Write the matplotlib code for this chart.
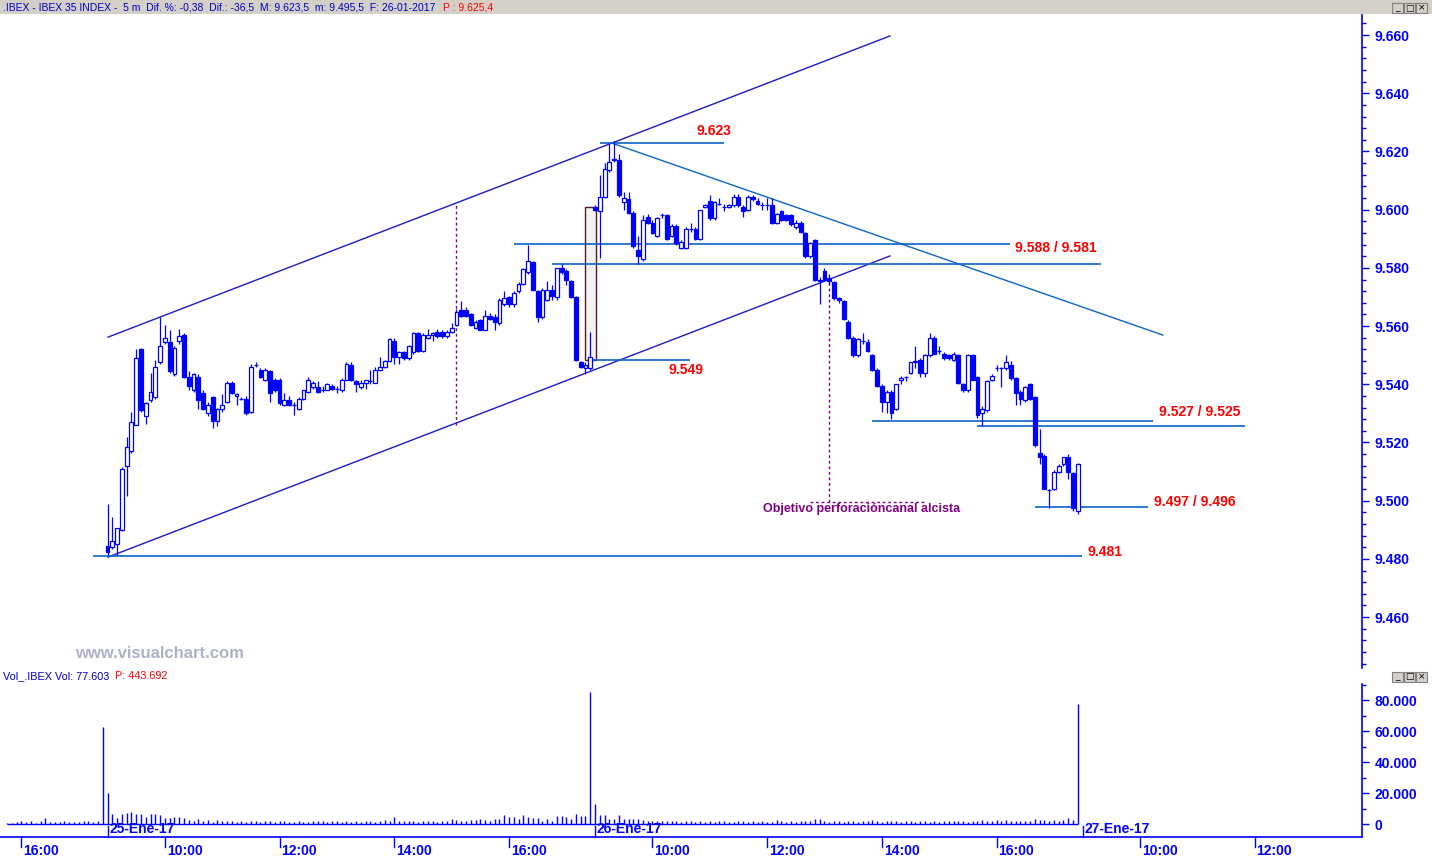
import matplotlib
matplotlib.use("Agg")
import matplotlib.pyplot as plt
import matplotlib.transforms as mtransforms
from matplotlib.patches import Rectangle
from matplotlib.ticker import MultipleLocator, FixedLocator
import numpy as np

# ---- 5 min IBEX candles, 25-Ene-17 (bar 0..101) and 26-Ene-17 (bar 102..203) ----
open_25 = [9484.5, 9484.0, 9485.0, 9490.0, 9512.0, 9517.0, 9526.0, 9552.0, 9529.0, 9534.5,
           9535.5, 9547.5, 9554.5, 9554.5, 9543.5, 9555.0, 9557.0, 9542.5, 9538.0, 9542.5,
           9537.0, 9530.0, 9535.5, 9527.5, 9531.5, 9534.0, 9540.5, 9536.0, 9535.0, 9535.0,
           9530.5, 9546.5, 9545.0, 9541.5, 9544.5, 9541.5, 9541.5, 9533.0, 9534.5, 9533.0,
           9531.5, 9535.0, 9537.5, 9539.0, 9539.0, 9538.0, 9538.0, 9539.5, 9538.5, 9538.0,
           9541.5, 9546.5, 9541.0, 9539.0, 9540.5, 9541.0, 9540.5, 9545.0, 9546.0, 9548.0,
           9555.0, 9549.5, 9551.0, 9549.0, 9551.0, 9557.5, 9551.5, 9556.0, 9557.0, 9558.0,
           9558.0, 9556.5, 9558.0, 9560.5, 9565.5, 9565.5, 9564.0, 9559.5, 9562.0, 9558.5,
           9563.5, 9563.0, 9561.0, 9567.5, 9570.0, 9567.5, 9572.0, 9574.5, 9578.5, 9582.0,
           9572.0, 9563.0, 9569.0, 9572.5, 9570.0, 9580.0, 9579.0, 9575.5, 9570.0, 9547.5,
           9545.5, 9545.5]
high_25 = [9499.0, 9494.5, 9490.5, 9511.5, 9522.0, 9530.5, 9552.0, 9552.5, 9534.0, 9544.0,
           9548.5, 9563.0, 9560.5, 9558.5, 9553.0, 9559.0, 9557.5, 9544.5, 9544.0, 9543.5,
           9538.0, 9534.0, 9536.0, 9532.0, 9536.5, 9541.0, 9541.0, 9537.0, 9535.5, 9536.0,
           9547.0, 9547.5, 9545.5, 9545.5, 9545.0, 9542.0, 9542.0, 9537.0, 9536.0, 9534.0,
           9535.5, 9538.0, 9542.5, 9541.0, 9541.0, 9539.5, 9540.5, 9540.0, 9539.5, 9542.0,
           9547.5, 9547.5, 9541.5, 9541.5, 9541.5, 9545.0, 9546.0, 9549.5, 9548.5, 9556.0,
           9556.0, 9551.5, 9551.5, 9553.5, 9558.0, 9558.0, 9557.5, 9559.0, 9558.0, 9559.0,
           9558.5, 9558.5, 9561.0, 9566.0, 9568.5, 9566.5, 9564.5, 9562.0, 9562.5, 9565.5,
           9564.5, 9564.0, 9569.5, 9572.0, 9570.5, 9572.0, 9575.0, 9580.0, 9588.0, 9582.5,
           9572.5, 9573.0, 9575.5, 9574.0, 9580.0, 9581.5, 9579.5, 9576.0, 9570.5, 9548.0,
           9547.5, 9558.0]
low_25 = [9481.3, 9483.5, 9481.5, 9489.5, 9501.5, 9516.5, 9526.0, 9530.5, 9526.5, 9534.0,
          9535.0, 9547.0, 9554.0, 9544.0, 9543.0, 9554.0, 9542.0, 9538.0, 9537.5, 9531.5,
          9531.0, 9529.0, 9525.0, 9525.5, 9530.5, 9533.5, 9536.5, 9533.0, 9534.5, 9529.5,
          9530.0, 9546.0, 9542.0, 9541.0, 9534.0, 9537.5, 9533.0, 9532.5, 9532.5, 9529.5,
          9531.0, 9534.5, 9537.0, 9538.5, 9537.0, 9537.5, 9538.0, 9538.0, 9537.0, 9537.5,
          9541.5, 9541.0, 9537.5, 9538.5, 9538.5, 9540.0, 9540.5, 9544.5, 9545.5, 9547.5,
          9547.0, 9547.0, 9548.5, 9548.5, 9550.5, 9551.0, 9551.0, 9555.5, 9555.0, 9556.0,
          9556.0, 9556.0, 9557.5, 9560.0, 9563.0, 9563.0, 9560.0, 9559.0, 9558.5, 9558.5,
          9562.0, 9558.5, 9560.5, 9567.0, 9566.5, 9566.5, 9571.5, 9574.0, 9578.0, 9572.0,
          9561.5, 9562.5, 9568.5, 9569.0, 9569.0, 9578.0, 9574.0, 9569.5, 9548.0, 9545.5,
          9543.5, 9545.0]
close_25 = [9482.5, 9486.0, 9490.5, 9511.0, 9518.5, 9527.0, 9549.0, 9531.0, 9533.5, 9537.5,
            9546.0, 9553.0, 9556.0, 9544.5, 9552.5, 9556.5, 9542.5, 9539.5, 9543.5, 9534.5,
            9531.5, 9533.0, 9527.5, 9531.5, 9533.0, 9540.5, 9537.0, 9536.5, 9535.0, 9530.0,
            9546.0, 9546.5, 9542.5, 9545.0, 9537.0, 9538.0, 9533.5, 9534.5, 9533.0, 9533.0,
            9535.0, 9538.0, 9541.5, 9540.5, 9537.5, 9538.0, 9540.0, 9538.5, 9538.5, 9541.5,
            9547.0, 9541.5, 9540.0, 9540.5, 9541.5, 9541.0, 9545.0, 9546.0, 9548.0, 9555.5,
            9549.5, 9551.0, 9549.0, 9553.0, 9557.5, 9551.5, 9557.0, 9557.0, 9557.5, 9556.5,
            9556.5, 9558.0, 9559.5, 9565.0, 9563.5, 9563.5, 9560.5, 9561.5, 9558.5, 9563.5,
            9562.5, 9561.5, 9569.0, 9569.5, 9567.5, 9571.5, 9574.5, 9579.5, 9582.5, 9572.5,
            9563.0, 9572.5, 9572.5, 9570.5, 9580.0, 9578.5, 9576.0, 9570.0, 9548.5, 9546.0,
            9546.5, 9549.5]

open_26 = [9601.0, 9599.5, 9604.5, 9613.5, 9617.5, 9617.0, 9602.5, 9603.5, 9599.0, 9586.0,
           9583.0, 9597.5, 9595.5, 9591.0, 9598.0, 9598.0, 9591.0, 9594.5, 9587.0, 9587.0,
           9593.5, 9593.5, 9590.0, 9601.0, 9603.0, 9597.0, 9602.0, 9601.0, 9601.0, 9601.5,
           9604.5, 9601.0, 9600.0, 9604.5, 9603.0, 9601.5, 9601.5, 9601.5, 9595.5, 9599.5,
           9598.0, 9598.0, 9594.0, 9595.5, 9592.0, 9584.0, 9589.5, 9576.0, 9579.0, 9576.5,
           9575.0, 9569.5, 9568.5, 9561.5, 9556.0, 9550.0, 9555.0, 9554.5, 9550.0, 9545.0,
           9539.5, 9534.0, 9537.5, 9531.5, 9541.5, 9542.5, 9544.0, 9547.5, 9548.5, 9544.0,
           9550.0, 9556.0, 9551.5, 9550.5, 9550.0, 9548.5, 9550.0, 9540.0, 9538.0, 9550.0,
           9542.5, 9530.0, 9531.0, 9541.5, 9545.5, 9545.5, 9545.5, 9546.5, 9542.0, 9537.5,
           9534.5, 9540.0, 9535.5, 9516.5, 9515.5, 9503.5, 9504.0, 9510.0, 9512.5, 9515.0,
           9509.5, 9496.5]
high_26 = [9601.5, 9612.0, 9616.0, 9622.5, 9623.5, 9619.0, 9606.0, 9606.0, 9599.5, 9591.0,
           9598.0, 9598.5, 9596.5, 9597.5, 9599.0, 9598.5, 9595.0, 9595.0, 9589.5, 9594.0,
           9595.5, 9594.0, 9600.0, 9602.0, 9605.0, 9603.0, 9604.0, 9602.0, 9602.0, 9605.5,
           9605.5, 9601.5, 9605.0, 9605.0, 9604.0, 9602.5, 9604.0, 9604.0, 9599.0, 9600.0,
           9598.5, 9598.5, 9596.5, 9596.0, 9592.5, 9589.0, 9590.0, 9577.0, 9580.0, 9578.0,
           9575.5, 9570.0, 9569.0, 9562.0, 9556.5, 9556.0, 9557.5, 9555.5, 9550.5, 9545.5,
           9540.0, 9538.0, 9538.0, 9540.0, 9543.0, 9543.0, 9547.5, 9553.0, 9549.0, 9550.5,
           9557.5, 9556.5, 9553.0, 9551.0, 9550.5, 9551.0, 9550.5, 9540.5, 9550.5, 9550.5,
           9543.0, 9532.5, 9541.5, 9543.5, 9546.5, 9546.0, 9550.0, 9548.0, 9542.5, 9538.0,
           9539.5, 9540.5, 9536.0, 9524.5, 9516.0, 9504.0, 9510.5, 9512.5, 9515.0, 9516.0,
           9510.0, 9513.0]
low_26 = [9599.5, 9583.5, 9604.0, 9613.0, 9616.5, 9604.5, 9600.0, 9598.5, 9587.0, 9581.5,
          9582.5, 9595.0, 9591.5, 9590.5, 9597.0, 9589.5, 9590.5, 9588.0, 9586.5, 9586.5,
          9592.5, 9589.5, 9589.5, 9600.5, 9596.5, 9596.5, 9601.5, 9599.5, 9600.5, 9601.0,
          9601.0, 9597.5, 9599.5, 9603.0, 9601.5, 9600.0, 9600.0, 9595.0, 9595.0, 9596.0,
          9596.0, 9594.5, 9593.5, 9592.0, 9583.5, 9583.5, 9575.5, 9567.5, 9575.5, 9574.5,
          9569.0, 9568.0, 9562.0, 9555.5, 9549.5, 9549.5, 9554.0, 9551.0, 9544.5, 9539.0,
          9530.5, 9530.0, 9528.0, 9531.0, 9540.0, 9541.0, 9543.5, 9545.5, 9542.5, 9542.5,
          9549.5, 9550.5, 9550.5, 9548.5, 9548.5, 9548.0, 9540.0, 9537.5, 9537.5, 9541.5,
          9528.5, 9525.5, 9530.5, 9541.0, 9544.5, 9539.0, 9545.0, 9541.5, 9533.0, 9533.0,
          9534.0, 9534.5, 9518.5, 9512.5, 9504.0, 9497.5, 9503.5, 9509.5, 9512.0, 9507.5,
          9496.5, 9495.5]
close_26 = [9600.0, 9604.5, 9614.0, 9616.5, 9617.0, 9605.0, 9604.0, 9599.0, 9587.5, 9584.0,
            9596.5, 9595.5, 9592.0, 9597.0, 9598.0, 9590.0, 9594.5, 9588.5, 9589.0, 9593.5,
            9593.5, 9590.0, 9600.0, 9601.5, 9597.0, 9602.5, 9602.0, 9601.0, 9601.5, 9604.5,
            9601.5, 9599.5, 9604.5, 9603.5, 9602.0, 9601.5, 9601.5, 9595.5, 9598.5, 9596.5,
            9596.5, 9595.0, 9595.5, 9592.5, 9584.0, 9588.5, 9576.0, 9575.5, 9576.0, 9575.5,
            9569.5, 9569.0, 9562.5, 9556.0, 9550.0, 9555.5, 9555.0, 9551.5, 9545.0, 9539.5,
            9534.0, 9537.5, 9530.0, 9540.0, 9542.0, 9542.5, 9547.5, 9548.0, 9544.0, 9550.0,
            9556.0, 9550.5, 9551.5, 9549.0, 9549.0, 9550.5, 9540.5, 9538.0, 9550.0, 9541.5,
            9529.5, 9531.5, 9541.0, 9543.0, 9545.5, 9545.5, 9547.5, 9542.0, 9537.0, 9535.0,
            9539.0, 9535.0, 9519.0, 9515.0, 9504.0, 9503.5, 9510.0, 9512.0, 9515.0, 9510.0,
            9497.5, 9512.5]

# volume in thousands: tail of 24-Ene (bars -21..-1), 25-Ene, 26-Ene
vol_24 = [0.9, 0.9, 1.3, 1.7, 1.3, 1.7, 0.9, 1.7, 3.9, 1.3, 1.3, 1.3, 1.7, 1.3, 1.3, 1.3, 1.7, 1.7,
          1.3, 2.2, 62.7]
vol_25 = [20.2, 6.5, 3.7, 6.5, 7.3, 8.0, 6.5, 6.5, 4.7, 6.2, 6.5, 5.8, 3.9,
          3.7, 4.3, 4.7, 3.9, 2.6, 2.2, 3.2, 2.2, 2.6, 1.5, 2.6, 2.2, 2.2,
          1.7, 1.3, 2.2, 1.5, 1.7, 2.2, 1.3, 1.7, 1.7, 1.3, 1.7, 2.2, 1.3,
          1.3, 1.7, 1.3, 1.3, 1.7, 1.7, 2.2, 1.3, 1.7, 1.7, 1.3, 2.2, 1.3,
          1.7, 1.3, 1.7, 1.7, 1.3, 2.2, 2.6, 2.2, 4.7, 2.2, 1.7, 1.7, 1.7,
          1.3, 2.2, 1.7, 1.7, 1.3, 1.7, 2.2, 3.2, 2.6, 2.2, 2.2, 2.6, 2.6,
          3.2, 2.6, 2.2, 3.4, 3.2,
          5.8, 4.7, 4.7, 3.4, 5.8, 4.3, 3.9, 3.9, 2.2, 3.0, 2.2, 5.2, 5.2, 4.7, 3.4, 6.5, 5.2, 5.2,
          85.0]
vol_26 = [12.9, 5.8, 5.8, 3.0, 3.0, 5.8, 3.4, 3.4, 3.0, 3.0, 2.6, 1.7, 2.2,
          2.2, 1.7, 2.2, 1.7, 1.7, 1.3, 1.7, 1.7, 1.3, 1.7, 1.3, 1.7, 1.3,
          1.7, 1.7, 1.3, 1.3, 1.7, 2.2, 1.3, 1.7, 1.3, 1.7, 1.3, 1.3, 2.6,
          1.7, 1.3, 1.7, 1.3, 1.7, 1.7, 2.2, 3.0, 3.0, 1.7, 1.3, 1.7, 1.7,
          1.3, 2.2, 1.7, 1.3, 1.7, 2.2, 2.6, 1.7, 1.3, 1.7, 2.2, 1.7, 1.3,
          1.7, 1.7, 1.3, 2.2, 1.7, 1.3, 1.7, 1.3, 1.7, 2.2, 1.7, 2.2, 1.7,
          1.3, 2.2, 1.7, 2.6, 1.7, 2.2, 2.6, 1.7, 2.6, 1.7, 2.2, 1.7, 2.2,
          2.2, 3.4, 2.6, 2.6, 2.2, 2.6, 2.2, 2.6, 3.9, 2.6,
          77.6]

time_ticks = [-18, 12, 36, 60, 84, 114, 138, 162, 186, 216, 240]
time_labels = ["16:00", "10:00", "12:00", "14:00", "16:00", "10:00", "12:00", "14:00", "16:00",
               "10:00", "12:00"]
date_ticks = [0, 102, 204]
date_labels = ["25-Ene-17", "26-Ene-17", "27-Ene-17"]

BLUE = "#0000ff"
LEVEL = "#0a64c8"
CHAN = "#1a1acc"
RED = "#ff0000"
PURPLE = "#800080"
NARROW = ["Liberation Sans Narrow", "Liberation Sans", "DejaVu Sans"]
SANS = ["Liberation Sans", "DejaVu Sans"]

W, H = 1432, 857


def fx(px):
    return px / W


def fy(py):
    return 1 - py / H


fig = plt.figure(figsize=(W / 100, H / 100), dpi=100)
fig.patch.set_facecolor("white")
ax = fig.add_axes([0, fy(668), fx(1362), fy(15) - fy(668)])
axv = fig.add_axes([0, fy(837), fx(1362), fy(684) - fy(837)])

for a in (ax, axv):
    a.set_xlim(-22.49, 262.45)
    for s in ("left", "top", "bottom"):
        a.spines[s].set_visible(False)
    a.spines["right"].set_color(BLUE)
    a.spines["right"].set_linewidth(1.2)
    a.set_xticks([])
    a.yaxis.tick_right()
    a.tick_params(axis="y", which="major", colors=BLUE, length=5, width=1, pad=4)
    a.tick_params(axis="y", which="minor", colors=BLUE, length=2.6, width=1)
axv.spines["bottom"].set_visible(True)
axv.spines["bottom"].set_color(BLUE)
axv.spines["bottom"].set_linewidth(1.2)

# ---- price panel ----
o = np.array(open_25 + open_26)
hi = np.array(high_25 + high_26)
lo = np.array(low_25 + low_26)
c = np.array(close_25 + close_26)
x = np.arange(len(o))
up = c >= o

ax.set_ylim(9442.5, 9666.9)
ax.yaxis.set_major_locator(FixedLocator(np.arange(9460, 9661, 20)))
ax.yaxis.set_minor_locator(MultipleLocator(4))
ax.set_yticklabels([f"{v / 1000:.3f}" for v in np.arange(9460, 9661, 20)])
for t in ax.get_yticklabels():
    t.set_fontfamily(NARROW); t.set_fontweight("bold"); t.set_fontsize(10); t.set_color(BLUE)

# overnight gap box
ax.add_patch(Rectangle((99.9, 9548.3), 2.3, 9600.9 - 9548.3, facecolor="#f2f2f2",
                       edgecolor="#5a1a1a", lw=1, zorder=1))

ax.vlines(x, lo, hi, color=BLUE, lw=0.9, zorder=3)
ax.bar(x, np.abs(c - o), bottom=np.minimum(o, c), width=0.8,
       color=np.where(up, "white", BLUE), edgecolor=BLUE, linewidth=0.9, zorder=4)

# channel and trend lines
ax.plot([0.1, 163.7], [9556.2, 9659.7], color=CHAN, lw=1, zorder=2)
ax.plot([0.1, 163.7], [9480.6, 9584.1], color=CHAN, lw=1, zorder=2)
ax.plot([105.5, 220.8], [9622.9, 9556.9], color=LEVEL, lw=1, zorder=2)

# horizontal levels
ax.hlines(9622.9, 103.0, 129.0, color=LEVEL, lw=1.2, zorder=2)
ax.hlines(9588.2, 85.0, 188.8, color=LEVEL, lw=1.2, zorder=2)
ax.hlines(9581.3, 93.0, 207.8, color=LEVEL, lw=1.2, zorder=2)
ax.hlines(9548.4, 100.9, 121.9, color=LEVEL, lw=1.2, zorder=2)
ax.hlines(9527.4, 159.9, 218.7, color=LEVEL, lw=1.2, zorder=2)
ax.hlines(9525.7, 181.9, 237.9, color=LEVEL, lw=1.2, zorder=2)
ax.hlines(9497.8, 194.0, 217.7, color=LEVEL, lw=1.2, zorder=2)
ax.hlines(9481.0, -3.0, 203.9, color=LEVEL, lw=1.2, zorder=2)

# projection of the channel break
ax.vlines(72.9, 9526.0, 9601.6, color=PURPLE, lw=1, linestyles=(0, (2, 2)), zorder=2)
ax.vlines(150.9, 9499.5, 9575.1, color=PURPLE, lw=1, linestyles=(0, (2, 2)), zorder=2)
ax.hlines(9499.5, 147.0, 171.0, color=PURPLE, lw=1, linestyles=(0, (2, 2)), zorder=2)

lab = dict(color=RED, fontsize=10, fontweight="bold", fontfamily=SANS, va="center", ha="left")
ax.text(123.3, 9627.0, "9.623", **lab)
ax.text(189.9, 9586.8, "9.588 / 9.581", **lab)
ax.text(117.3, 9544.9, "9.549", **lab)
ax.text(219.9, 9530.5, "9.527 / 9.525", **lab)
ax.text(218.9, 9499.5, "9.497 / 9.496", **lab)
ax.text(205.1, 9482.4, "9.481", **lab)
ax.text(137.1, 9497.1, "Objetivo perforacióncanal alcista", color=PURPLE, fontsize=9,
        fontweight="bold", fontfamily=SANS, va="center", ha="left")

# ---- volume panel ----
vol = np.array(vol_24 + vol_25 + vol_26) * 1000
xv = np.arange(-len(vol_24), len(vol_25) + len(vol_26))
axv.set_ylim(-8387, 90323)
axv.vlines(xv, 0, vol, color=BLUE, lw=1)
axv.hlines(0, xv[0], xv[-1], color=BLUE, lw=1)
vt = [0, 20000, 40000, 60000, 80000]
axv.yaxis.set_major_locator(FixedLocator(vt))
axv.yaxis.set_minor_locator(MultipleLocator(10000))
axv.set_yticklabels(["0"] + [f"{v / 1000:.3f}" for v in vt[1:]])
for t in axv.get_yticklabels():
    t.set_fontfamily(NARROW); t.set_fontweight("bold"); t.set_fontsize(10); t.set_color(BLUE)

tr = mtransforms.blended_transform_factory(axv.transData, axv.transAxes)
for xt, s in zip(time_ticks, time_labels):
    axv.plot([xt, xt], [0, -0.065], color=BLUE, lw=1, transform=tr, clip_on=False)
    axv.text(xt + 0.4, -0.092, s, transform=tr, color=BLUE, fontsize=10, fontweight="bold",
             fontfamily=SANS, va="center", ha="left")
for xt, s in zip(date_ticks, date_labels):
    axv.plot([xt, xt], [0, 0.072], color=BLUE, lw=1, transform=tr, clip_on=False)
    axv.text(xt + 0.4, 0.055, s, transform=tr, color=BLUE, fontsize=10, fontweight="bold",
             fontfamily=SANS, va="center", ha="left")

# ---- headers, watermark, window buttons ----
fig.add_artist(Rectangle((0, fy(14)), 1, fy(0) - fy(14), transform=fig.transFigure,
                         facecolor="#d4d0c8", edgecolor="none"))
fig.text(fx(3), fy(7), ".IBEX - IBEX 35 INDEX -  5 m  Dif. %: -0,38  Dif.: -36,5  M: 9.623,5  "
         "m: 9.495,5  F: 26-01-2017", color="#0000c8", fontsize=7.5, fontfamily=SANS, va="center")
fig.text(fx(443), fy(7), "P : 9.625,4", color=RED, fontsize=7.5, fontfamily=SANS, va="center")
fig.text(fx(3), fy(676), "Vol_.IBEX Vol: 77.603", color="#0000c8", fontsize=7.8,
         fontfamily=SANS, va="center")
fig.text(fx(115), fy(676), "P: 443.692", color=RED, fontsize=7.8, fontfamily=SANS, va="center")
fig.text(fx(75), fy(653), "www.visualchart.com", color="#aab2c6", fontsize=12,
         fontweight="bold", fontfamily=SANS, va="center")

for ytop in (3, 672):
    for xl, glyph in ((1392, "_"), (1404, "□"), (1416, "×")):
        fig.add_artist(Rectangle((fx(xl), fy(ytop + 10)), fx(11), fy(ytop) - fy(ytop + 10),
                                 transform=fig.transFigure, facecolor="#d4d0c8",
                                 edgecolor="#808080", lw=0.8))
        fig.text(fx(xl + 5.5), fy(ytop + 5), glyph, color="black", fontsize=6.5,
                 fontfamily=["DejaVu Sans"], ha="center", va="center")

fig.savefig("out.png", dpi=100)
